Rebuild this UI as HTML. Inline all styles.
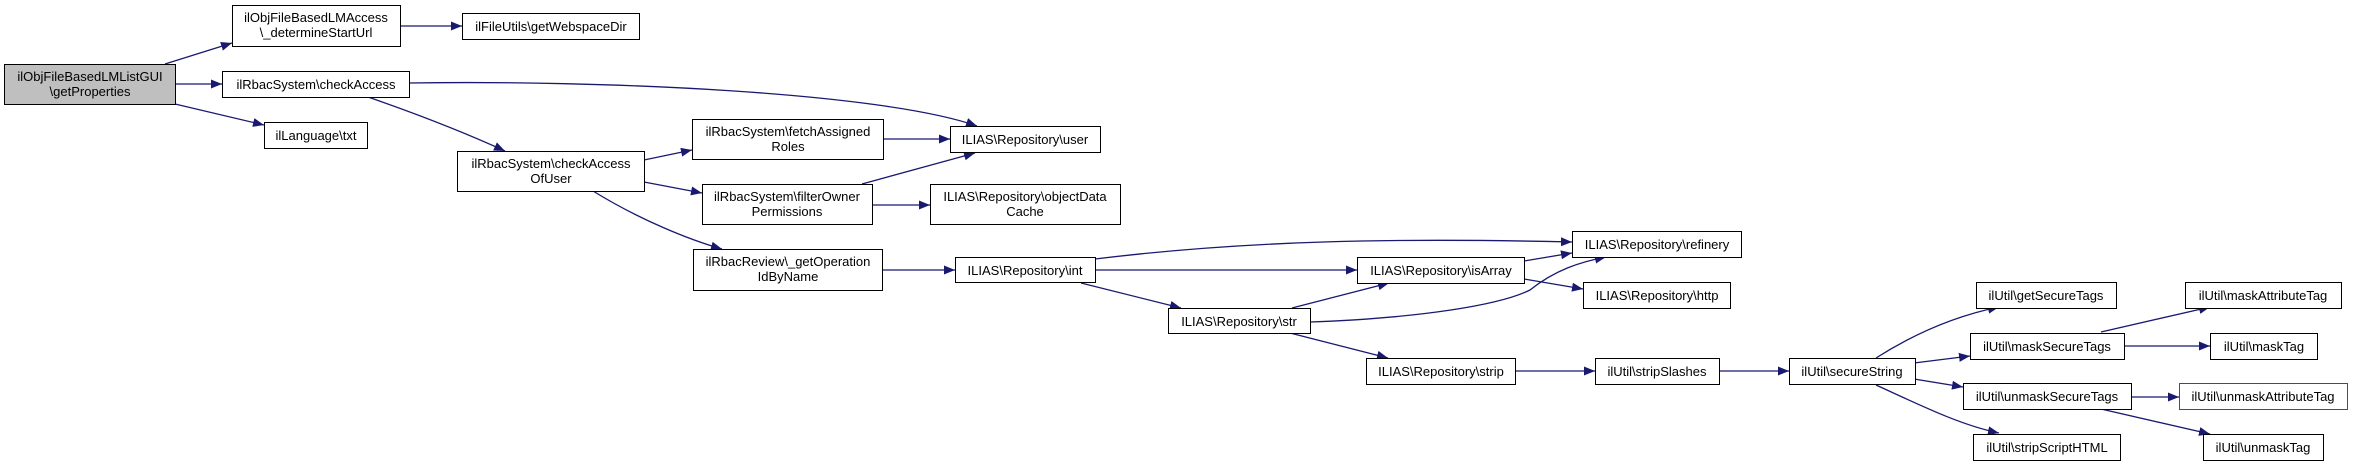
<!DOCTYPE html>
<html><head><meta charset="utf-8"><style>
html,body{margin:0;padding:0;background:#fff;}
svg{display:block;}
text{font-family:"Liberation Sans",Arial,sans-serif;font-size:13px;fill:#000;}
</style></head><body>
<svg width="2353" height="466" viewBox="0 0 2353 466" xmlns="http://www.w3.org/2000/svg">
<defs>
<marker id="a" markerUnits="userSpaceOnUse" markerWidth="12" markerHeight="10" refX="11" refY="5" orient="auto">
<path d="M0,0.5 L11,5 L0,9.5 Z" fill="#191970"/>
</marker>
</defs>
<g fill="none" stroke="#191970" stroke-width="1.3" marker-end="url(#a)">
<path d="M165,64 L232,43"/>
<path d="M175,84 L222,84"/>
<path d="M175,104 L264,125"/>
<path d="M400,26 L462,26"/>
<path d="M409,83 C600,80 880,92 977,126"/>
<path d="M368,97 C420,115 470,135 505,151"/>
<path d="M644,160 L692,150"/>
<path d="M644,182 L702,193"/>
<path d="M593,191 C640,220 690,240 722,249"/>
<path d="M883,139 L950,139"/>
<path d="M862,184 L975,153"/>
<path d="M872,205 L930,205"/>
<path d="M882,270 L955,270"/>
<path d="M1095,259 C1250,240 1400,238 1572,242"/>
<path d="M1095,270 L1357,270"/>
<path d="M1081,283 L1181,308"/>
<path d="M1524,261 L1572,253"/>
<path d="M1524,279 L1583,289"/>
<path d="M1292,308 L1389,283"/>
<path d="M1310,322 C1420,318 1500,305 1530,290 C1555,270 1580,262 1606,257"/>
<path d="M1290,333 L1388,358"/>
<path d="M1515,371 L1595,371"/>
<path d="M1719,371 L1789,371"/>
<path d="M1876,358 C1920,330 1960,315 1999,307"/>
<path d="M1914,363 L1970,356"/>
<path d="M1914,379 L1963,387"/>
<path d="M1876,385 C1920,405 1960,425 1999,433"/>
<path d="M2101,332 L2210,307"/>
<path d="M2125,346 L2210,346"/>
<path d="M2130,397 L2179,397"/>
<path d="M2101,409 L2210,434"/>
</g>
<g stroke="#000" stroke-width="1" fill="#fff">
<rect x="4.5" y="64.5" width="171" height="40" fill="#bfbfbf"/>
<rect x="232.5" y="5.5" width="168" height="41"/>
<rect x="462.5" y="13.5" width="177" height="26"/>
<rect x="222.5" y="71.5" width="187" height="26"/>
<rect x="264.5" y="122.5" width="103" height="26"/>
<rect x="457.5" y="151.5" width="187" height="40"/>
<rect x="692.5" y="119.5" width="191" height="40"/>
<rect x="950.5" y="126.5" width="150" height="26"/>
<rect x="702.5" y="184.5" width="170" height="40"/>
<rect x="930.5" y="184.5" width="190" height="40"/>
<rect x="693.5" y="249.5" width="189" height="41"/>
<rect x="955.5" y="257.5" width="140" height="25"/>
<rect x="1572.5" y="231.5" width="169" height="26"/>
<rect x="1357.5" y="257.5" width="167" height="26"/>
<rect x="1583.5" y="282.5" width="147" height="26"/>
<rect x="1168.5" y="308.5" width="142" height="25"/>
<rect x="1366.5" y="358.5" width="149" height="26"/>
<rect x="1595.5" y="358.5" width="124" height="26"/>
<rect x="1789.5" y="358.5" width="126" height="26"/>
<rect x="1976.5" y="282.5" width="140" height="26"/>
<rect x="1970.5" y="333.5" width="154" height="26"/>
<rect x="1963.5" y="383.5" width="168" height="26"/>
<rect x="1973.5" y="434.5" width="147" height="26"/>
<rect x="2185.5" y="282.5" width="156" height="26"/>
<rect x="2210.5" y="333.5" width="107" height="26"/>
<rect x="2179.5" y="383.5" width="168" height="26" stroke="#ff0000"/>
<rect x="2203.5" y="434.5" width="120" height="26"/>
</g>
<g text-anchor="middle">
<text x="90" y="81">ilObjFileBasedLMListGUI</text><text x="90" y="96">\getProperties</text>
<text x="316" y="22">ilObjFileBasedLMAccess</text><text x="316" y="37">\_determineStartUrl</text>
<text x="551" y="31">ilFileUtils\getWebspaceDir</text>
<text x="316" y="89">ilRbacSystem\checkAccess</text>
<text x="316" y="140">ilLanguage\txt</text>
<text x="551" y="168">ilRbacSystem\checkAccess</text><text x="551" y="183">OfUser</text>
<text x="788" y="136">ilRbacSystem\fetchAssigned</text><text x="788" y="151">Roles</text>
<text x="1025" y="144">ILIAS\Repository\user</text>
<text x="787" y="201">ilRbacSystem\filterOwner</text><text x="787" y="216">Permissions</text>
<text x="1025" y="201">ILIAS\Repository\objectData</text><text x="1025" y="216">Cache</text>
<text x="788" y="266">ilRbacReview\_getOperation</text><text x="788" y="281">IdByName</text>
<text x="1025" y="275">ILIAS\Repository\int</text>
<text x="1657" y="249">ILIAS\Repository\refinery</text>
<text x="1441" y="275">ILIAS\Repository\isArray</text>
<text x="1657" y="300">ILIAS\Repository\http</text>
<text x="1239" y="326">ILIAS\Repository\str</text>
<text x="1441" y="376">ILIAS\Repository\strip</text>
<text x="1657" y="376">ilUtil\stripSlashes</text>
<text x="1852" y="376">ilUtil\secureString</text>
<text x="2046" y="300">ilUtil\getSecureTags</text>
<text x="2047" y="351">ilUtil\maskSecureTags</text>
<text x="2047" y="401">ilUtil\unmaskSecureTags</text>
<text x="2047" y="452">ilUtil\stripScriptHTML</text>
<text x="2263" y="300">ilUtil\maskAttributeTag</text>
<text x="2264" y="351">ilUtil\maskTag</text>
<text x="2263" y="401">ilUtil\unmaskAttributeTag</text>
<text x="2263" y="452">ilUtil\unmaskTag</text>
</g>
</svg>
</body></html>
